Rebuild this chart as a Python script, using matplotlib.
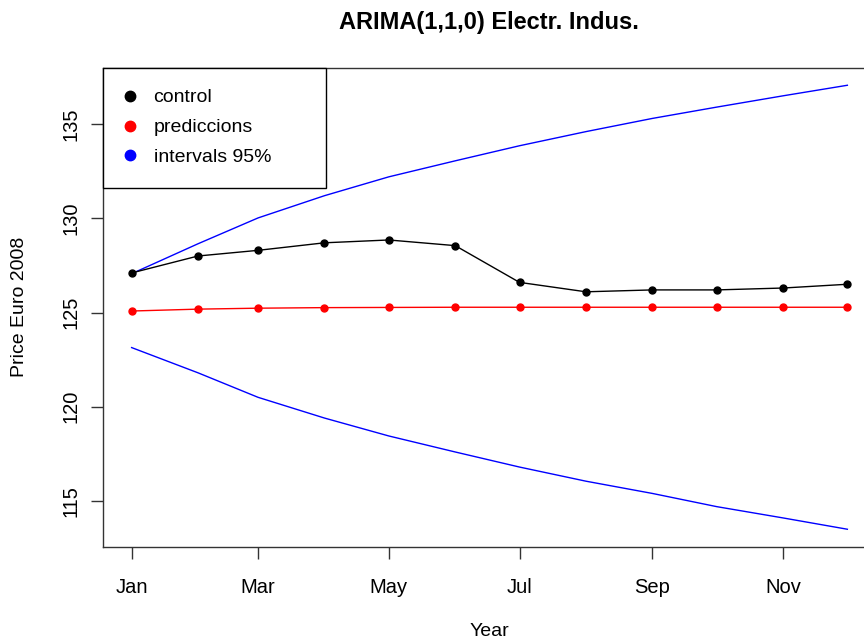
import matplotlib
matplotlib.use("Agg")
import matplotlib.pyplot as plt
import matplotlib.dates as mdates
from matplotlib.lines import Line2D
import pandas as pd

plt.rcParams['font.family'] = ['Liberation Sans', 'DejaVu Sans']

months = ['2009-01-01', '2009-02-01', '2009-03-01', '2009-04-01', '2009-05-01', '2009-06-01',
          '2009-07-01', '2009-08-01', '2009-09-01', '2009-10-01', '2009-11-01', '2009-12-01']
control = [127.1, 128.0, 128.3, 128.7, 128.85, 128.55, 126.6, 126.1, 126.2, 126.2, 126.3, 126.5]
prediccions = [125.08, 125.18, 125.23, 125.26, 125.27, 125.28, 125.28, 125.28, 125.28, 125.28, 125.28, 125.28]
upper = [127.06, 128.65, 130.02, 131.2, 132.2, 133.05, 133.85, 134.6, 135.3, 135.9, 136.5, 137.06]
lower = [123.14, 121.8, 120.5, 119.4, 118.45, 117.6, 116.8, 116.05, 115.4, 114.7, 114.1, 113.5]

dates = pd.to_datetime(months)

fig = plt.figure(figsize=(8.64, 6.41), dpi=100)
ax = fig.add_axes([103 / 864, 1 - 547 / 641, (876 - 103) / 864, (547 - 67.5) / 641])

ax.plot(dates, upper, color='blue', lw=1.0)
ax.plot(dates, lower, color='blue', lw=1.0)
ax.plot(dates, prediccions, color='red', lw=1.0, marker='o', ms=5, mec='red')
ax.plot(dates, control, color='black', lw=1.0, marker='o', ms=5, mec='black')

# R-style 4% padding
span = dates[-1] - dates[0]
ax.set_xlim(dates[0] - span * 0.04, dates[-1] + span * 0.04)
ymin, ymax = min(lower), max(upper)
pad = (ymax - ymin) * 0.04
ax.set_ylim(ymin - pad, ymax + pad)

ax.xaxis.set_major_locator(mdates.MonthLocator(bymonth=[1, 3, 5, 7, 9, 11]))
ax.xaxis.set_major_formatter(mdates.DateFormatter('%b'))
ax.set_yticks([115, 120, 125, 130, 135])

ax.tick_params(axis='both', direction='out', length=8.5, width=1.0, labelsize=14.5, color='#333333')
ax.tick_params(axis='x', pad=14)
ax.tick_params(axis='y', pad=8)
for lab in ax.get_yticklabels():
    lab.set_rotation(90)
    lab.set_va('center')

for s in ax.spines.values():
    s.set_linewidth(1.0)
    s.set_color('#333333')

fig.text(489 / 864, 1 - 22 / 641, 'ARIMA(1,1,0) Electr. Indus.', ha='center', va='center',
         fontsize=17, fontweight='bold')
fig.text(489 / 864, 1 - 631 / 641, 'Year', ha='center', va='center', fontsize=14)
fig.text(20 / 864, 1 - 307 / 641, 'Price Euro 2008', ha='center', va='center', fontsize=14, rotation=90)

handles = [Line2D([], [], ls='none', marker='o', ms=7.5, color=c) for c in ['black', 'red', 'blue']]
leg = ax.legend(handles, ['control', 'prediccions', 'intervals 95%'], loc='upper left',
                bbox_to_anchor=(0, 0, 223 / 773, 1), mode='expand', borderaxespad=0,
                fontsize=14, fancybox=False, framealpha=1, edgecolor='black',
                borderpad=1.1, handlelength=0.6, handletextpad=0.9, labelspacing=0.63)
leg.get_frame().set_linewidth(1.0)

fig.savefig('out.png', dpi=100)
